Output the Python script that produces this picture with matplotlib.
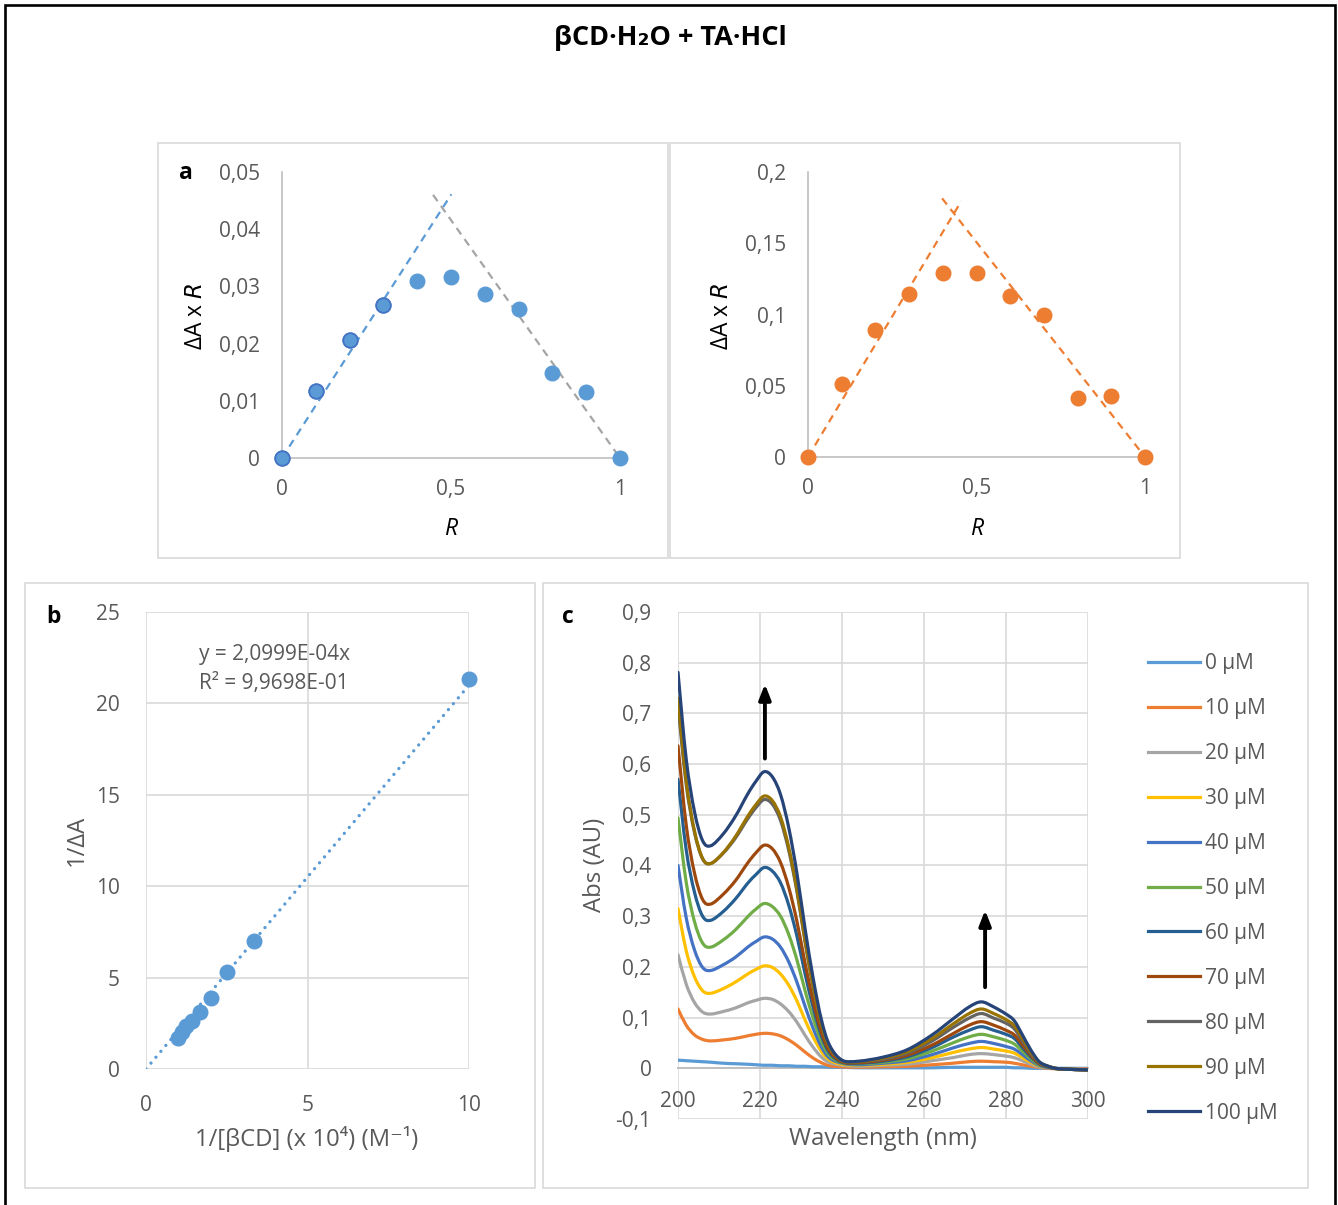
import matplotlib
matplotlib.use("Agg")
import numpy as np
import matplotlib.pyplot as plt
from matplotlib.patches import Rectangle, PathPatch
from matplotlib.path import Path
from matplotlib.lines import Line2D

plt.rcParams['font.family'] = ['Open Sans', 'DejaVu Sans']

# ---------------- data ----------------
# Job plots (panel a)
R = [0.0, 0.1, 0.2, 0.3, 0.4, 0.5, 0.6, 0.7, 0.8, 0.9, 1.0]
dAR_221 = [0.0, 0.0117, 0.0206, 0.0268, 0.0309, 0.0316, 0.0287, 0.0261, 0.0148, 0.0115, 0.0]
dAR_274 = [0.0, 0.0513, 0.0888, 0.1142, 0.1290, 0.1292, 0.1133, 0.1000, 0.0415, 0.0426, 0.0]
fitL_up_x, fitL_up_y = [0.0, 0.501], [0.0, 0.0461]
fitL_dn_x, fitL_dn_y = [0.447, 1.0], [0.0460, 0.0]
fitR_up_x, fitR_up_y = [0.0, 0.455], [0.0, 0.1796]
fitR_dn_x, fitR_dn_y = [0.398, 1.0], [0.1815, 0.0]

# Benesi-Hildebrand (panel b)
inv_cd = [10.0, 3.333, 2.5, 2.0, 1.667, 1.429, 1.25, 1.111, 1.0]
inv_dA = [21.33, 6.99, 5.30, 3.86, 3.11, 2.65, 2.33, 2.05, 1.69]
bh_slope = 2.0999          # 2,0999E-04 with x in units of 1e4 M^-1
bh_r2 = "9,9698E-01"

# UV spectra (panel c)
wavelength = [200, 202, 204, 206, 208, 211, 214, 217, 219, 221, 223, 225, 227, 229, 231,
              233, 235, 237, 240, 244, 250, 256, 262, 267, 271, 274, 277, 280, 282, 284,
              286, 288, 290, 293, 300]
conc_labels = ["0 µM", "10 µM", "20 µM", "30 µM", "40 µM", "50 µM",
               "60 µM", "70 µM", "80 µM", "90 µM", "100 µM"]
abs_0 = [0.016, 0.015, 0.014, 0.013, 0.012, 0.010, 0.009, 0.008, 0.007, 0.006, 0.006, 0.005,
         0.005, 0.004, 0.004, 0.003, 0.003, 0.002, 0.002, 0.001, 0.001, 0.001, 0.001, 0.002,
         0.002, 0.002, 0.002, 0.002, 0.001, 0.001, 0.000, 0.000, 0.000, 0.000, 0.000]
abs_10 = [0.117, 0.085, 0.066, 0.057, 0.054, 0.056, 0.059, 0.064, 0.067, 0.069, 0.068, 0.064,
          0.056, 0.045, 0.032, 0.020, 0.011, 0.005, 0.003, 0.002, 0.003, 0.004, 0.007, 0.010,
          0.013, 0.014, 0.013, 0.012, 0.010, 0.007, 0.004, 0.002, 0.000, -0.001, -0.001]
abs_20 = [0.224, 0.166, 0.130, 0.111, 0.107, 0.112, 0.119, 0.129, 0.134, 0.138, 0.136, 0.127,
          0.112, 0.091, 0.065, 0.041, 0.022, 0.011, 0.006, 0.004, 0.006, 0.008, 0.015, 0.021,
          0.027, 0.029, 0.027, 0.024, 0.021, 0.015, 0.008, 0.003, 0.001, -0.001, -0.002]
abs_30 = [0.315, 0.232, 0.181, 0.153, 0.148, 0.157, 0.170, 0.186, 0.195, 0.202, 0.199, 0.186,
          0.164, 0.133, 0.095, 0.061, 0.033, 0.016, 0.008, 0.006, 0.008, 0.012, 0.021, 0.031,
          0.038, 0.041, 0.038, 0.034, 0.030, 0.021, 0.012, 0.005, 0.002, -0.001, -0.003]
abs_40 = [0.400, 0.297, 0.234, 0.199, 0.193, 0.204, 0.219, 0.239, 0.250, 0.259, 0.255, 0.239,
          0.210, 0.170, 0.122, 0.078, 0.042, 0.020, 0.010, 0.007, 0.010, 0.015, 0.027, 0.040,
          0.049, 0.053, 0.049, 0.043, 0.038, 0.027, 0.015, 0.006, 0.002, -0.001, -0.003]
abs_50 = [0.494, 0.367, 0.290, 0.247, 0.239, 0.253, 0.273, 0.299, 0.314, 0.325, 0.319, 0.300,
          0.264, 0.214, 0.153, 0.098, 0.053, 0.025, 0.011, 0.009, 0.012, 0.019, 0.034, 0.050,
          0.062, 0.067, 0.062, 0.055, 0.048, 0.034, 0.019, 0.007, 0.003, -0.001, -0.003]
abs_60 = [0.570, 0.431, 0.348, 0.300, 0.292, 0.309, 0.334, 0.365, 0.382, 0.396, 0.389, 0.366,
          0.322, 0.261, 0.186, 0.119, 0.064, 0.030, 0.012, 0.010, 0.014, 0.023, 0.041, 0.061,
          0.075, 0.082, 0.075, 0.067, 0.059, 0.041, 0.023, 0.009, 0.003, -0.001, -0.003]
abs_70 = [0.636, 0.480, 0.386, 0.333, 0.324, 0.343, 0.370, 0.405, 0.425, 0.440, 0.433, 0.406,
          0.357, 0.290, 0.207, 0.132, 0.071, 0.034, 0.013, 0.011, 0.016, 0.026, 0.046, 0.068,
          0.085, 0.092, 0.085, 0.075, 0.066, 0.046, 0.026, 0.010, 0.004, -0.001, -0.003]
abs_80 = [0.715, 0.560, 0.466, 0.413, 0.404, 0.424, 0.454, 0.492, 0.514, 0.530, 0.521, 0.489,
          0.430, 0.349, 0.249, 0.159, 0.086, 0.041, 0.015, 0.013, 0.018, 0.030, 0.054, 0.080,
          0.099, 0.108, 0.099, 0.089, 0.078, 0.054, 0.030, 0.012, 0.004, -0.001, -0.003]
abs_90 = [0.730, 0.567, 0.469, 0.414, 0.404, 0.425, 0.457, 0.497, 0.520, 0.537, 0.528, 0.496,
          0.436, 0.353, 0.252, 0.161, 0.087, 0.041, 0.015, 0.013, 0.020, 0.033, 0.059, 0.087,
          0.108, 0.117, 0.108, 0.096, 0.084, 0.059, 0.033, 0.013, 0.005, -0.001, -0.003]
abs_100 = [0.781, 0.610, 0.507, 0.449, 0.439, 0.462, 0.497, 0.541, 0.566, 0.585, 0.575, 0.540,
           0.475, 0.385, 0.275, 0.176, 0.095, 0.045, 0.016, 0.014, 0.022, 0.037, 0.066, 0.097,
           0.121, 0.131, 0.121, 0.107, 0.094, 0.066, 0.037, 0.014, 0.005, -0.001, -0.003]
spectra = [abs_0, abs_10, abs_20, abs_30, abs_40, abs_50, abs_60, abs_70, abs_80, abs_90, abs_100]
spec_colors = ["#5B9BD5", "#ED7D31", "#A5A5A5", "#FFC000", "#4472C4", "#70AD47",
               "#255E91", "#9E480E", "#636363", "#997300", "#264478"]

# ---------------- layout helpers ----------------
W, H = 1338, 1205
fig = plt.figure(figsize=(W / 100, H / 100), dpi=100)


def fx(px):
    return px / W


def fy(py):
    return 1 - py / H


def axes_px(x0, y0, x1, y1):
    return fig.add_axes([fx(x0), fy(y1), (x1 - x0) / W, (y1 - y0) / H])


TICK_C = "#595959"
AXIS_C = "#BFBFBF"
GRID_C = "#D9D9D9"
FS = 15.0
TITLE_FS = 17.2
BOLD = ['Open Sans', 'DejaVu Sans']


def comma(v, nd):
    s = f"{v:.{nd}f}" if nd > 0 else f"{v:g}"
    return s.replace(".", ",")


def smooth_path(xs, ys):
    """Cubic Bezier path through the points (Catmull-Rom tangents), like a smoothed line."""
    p = np.column_stack([xs, ys]).astype(float)
    n = len(p)
    verts = [p[0]]
    codes = [Path.MOVETO]
    for i in range(n - 1):
        p0 = p[i - 1] if i > 0 else p[i]
        p3 = p[i + 2] if i + 2 < n else p[i + 1]
        c1 = p[i] + (p[i + 1] - p0) / 6.0
        c2 = p[i + 1] - (p3 - p[i]) / 6.0
        verts += [c1, c2, p[i + 1]]
        codes += [Path.CURVE4] * 3
    return Path(verts, codes)


# outer frame and panel boxes
fig.add_artist(Rectangle((fx(5), fy(1215)), 1330 / W, 1210 / H, transform=fig.transFigure,
                         fill=False, ec="black", lw=1.9))
for (x0, y0, x1, y1) in [(158, 143, 668, 558), (670, 143, 1180, 558),
                         (25, 583, 535, 1188), (543, 583, 1308, 1188)]:
    fig.add_artist(Rectangle((fx(x0), fy(y1)), (x1 - x0) / W, (y1 - y0) / H,
                             transform=fig.transFigure, fill=False, ec=GRID_C, lw=1.2))

fig.text(fx(670), fy(38), "βCD·H₂O + TA·HCl", ha="center", va="center",
         fontsize=19.5, fontweight="bold", family=BOLD)

# ---------------- panel a ----------------


def job_axes(ax, ymax, yticks, ylabels):
    ax.set_xlim(0, 1)
    ax.set_ylim(0, ymax)
    for s in ["top", "right"]:
        ax.spines[s].set_visible(False)
    for s in ["left", "bottom"]:
        ax.spines[s].set_color(AXIS_C)
        ax.spines[s].set_linewidth(1.2)
    ax.set_xticks([0, 0.5, 1])
    ax.set_xticklabels(["0", "0,5", "1"])
    ax.set_yticks(yticks)
    ax.set_yticklabels(ylabels)
    ax.tick_params(axis="both", length=0, labelsize=FS, labelcolor=TICK_C)
    ax.tick_params(axis="y", pad=16)
    ax.tick_params(axis="x", pad=15)
    ax.set_facecolor("none")


DASH = (0, (3.5, 2.6))

axL = axes_px(282, 172, 620, 458)
job_axes(axL, 0.05, [0, 0.01, 0.02, 0.03, 0.04, 0.05],
         ["0", "0,01", "0,02", "0,03", "0,04", "0,05"])
axL.plot(fitL_up_x, fitL_up_y, color="#5B9BD5", lw=1.6, ls=DASH, zorder=2)
axL.plot(fitL_dn_x, fitL_dn_y, color="#A5A5A5", lw=1.6, ls=DASH, zorder=2)
axL.plot(R, dAR_221, "o", ms=10.5, color="#5B9BD5", mec="#5B9BD5", clip_on=False, zorder=3)
axL.plot(R[:4], dAR_221[:4], "o", ms=10.5, color="#5B9BD5", mec="#4472C4", mew=1.3,
         clip_on=False, zorder=4)

axR = axes_px(808, 172, 1145, 457)
job_axes(axR, 0.2, [0, 0.05, 0.1, 0.15, 0.2], ["0", "0,05", "0,1", "0,15", "0,2"])
axR.plot(fitR_up_x, fitR_up_y, color="#ED7D31", lw=1.6, ls=DASH, zorder=2)
axR.plot(fitR_dn_x, fitR_dn_y, color="#ED7D31", lw=1.6, ls=DASH, zorder=2)
axR.plot(R, dAR_274, "o", ms=10.5, color="#ED7D31", mec="#ED7D31", clip_on=False, zorder=3)

for cx, lx in [(196, 451), (722, 977)]:
    fig.text(fx(cx), fy(316), r"ΔA x $\it{R}$", rotation=90, ha="center", va="center",
             fontsize=16.5, color="black")
    fig.text(fx(lx), fy(529), "R", style="italic", ha="center", va="center",
             fontsize=16.5, color="black")
fig.text(fx(186), fy(173), "a", fontsize=16.5, fontweight="bold", ha="center", va="center",
         family=BOLD)

# ---------------- panel b ----------------
axB = axes_px(146, 612, 469, 1069)
axB.set_xlim(0, 10)
axB.set_ylim(0, 25)
axB.set_xticks([0, 5, 10])
axB.set_yticks([0, 5, 10, 15, 20, 25])
axB.grid(True, color=GRID_C, lw=1.2)
for s in axB.spines.values():
    s.set_visible(False)
axB.tick_params(axis="both", length=0, labelsize=FS, labelcolor=TICK_C)
axB.tick_params(axis="y", pad=19)
axB.tick_params(axis="x", pad=19)
bh_x = [0, 10]
axB.plot(bh_x, [bh_slope * v for v in bh_x], color="#5B9BD5", lw=2.4,
         ls=(0, (0.01, 2.3)), dash_capstyle="round", zorder=2)
axB.plot(inv_cd, inv_dA, "o", ms=10.5, color="#5B9BD5", clip_on=False, zorder=3)
axB.text(1.65, 22.7, "y = " + comma(bh_slope, 4) + "E-04x", fontsize=FS, color=TICK_C,
         ha="left", va="center")
axB.text(1.65, 21.08, "R² = " + bh_r2, fontsize=FS, color=TICK_C, ha="left", va="center")
fig.text(fx(77), fy(840), "1/ΔA", rotation=90, ha="center", va="center", fontsize=TITLE_FS,
         color=TICK_C)
fig.text(fx(307), fy(1139), "1/[βCD] (x 10⁴) (M⁻¹)", ha="center", va="center",
         fontsize=TITLE_FS, color=TICK_C)
fig.text(fx(53), fy(617), "b", fontsize=16.5, fontweight="bold", ha="center", va="center",
         family=BOLD)

# ---------------- panel c ----------------
axC = axes_px(678, 612, 1088, 1119)
axC.set_xlim(200, 300)
axC.set_ylim(-0.1, 0.9)
axC.set_xticks(range(200, 301, 20))
yt = [round(-0.1 + 0.1 * i, 1) for i in range(11)]
axC.set_yticks(yt)
axC.set_yticklabels(["0" if t == 0 else comma(t, 1) for t in yt])
axC.grid(True, color=GRID_C, lw=1.2)
for s in ["top", "right", "left"]:
    axC.spines[s].set_visible(False)
axC.spines["bottom"].set_position(("data", 0))
axC.spines["bottom"].set_color(AXIS_C)
axC.spines["bottom"].set_linewidth(1.4)
axC.tick_params(axis="both", length=0, labelsize=FS, labelcolor=TICK_C)
axC.tick_params(axis="y", pad=19)
axC.tick_params(axis="x", pad=16)
handles = []
for yvals, col, lab in zip(spectra, spec_colors, conc_labels):
    axC.add_patch(PathPatch(smooth_path(wavelength, yvals), fill=False, ec=col, lw=2.3,
                            capstyle="round", joinstyle="round", zorder=3))
    handles.append(Line2D([], [], color=col, lw=2.3, label=lab))
for (xa, y0, y1) in [(221.2, 0.611, 0.758), (274.9, 0.160, 0.312)]:
    axC.annotate("", xy=(xa, y1), xytext=(xa, y0),
                 arrowprops=dict(arrowstyle="-|>,head_length=0.9,head_width=0.35",
                                 color="black", lw=2.8, shrinkA=0, shrinkB=0), zorder=5)
axC.legend(handles=handles, loc="upper left", bbox_to_anchor=(fx(1148), fy(653)),
           bbox_transform=fig.transFigure, frameon=False, fontsize=FS,
           labelcolor=TICK_C, handlelength=2.5, handletextpad=0.25, labelspacing=1.15,
           borderpad=0, borderaxespad=0)
fig.text(fx(595), fy(865), "Abs (AU)", rotation=90, ha="center", va="center",
         fontsize=TITLE_FS, color=TICK_C)
fig.text(fx(883), fy(1139), "Wavelength (nm)", ha="center", va="center",
         fontsize=TITLE_FS, color=TICK_C)
fig.text(fx(568), fy(617), "c", fontsize=16.5, fontweight="bold", ha="center", va="center",
         family=BOLD)

fig.savefig("out.png", dpi=100, facecolor="white")
